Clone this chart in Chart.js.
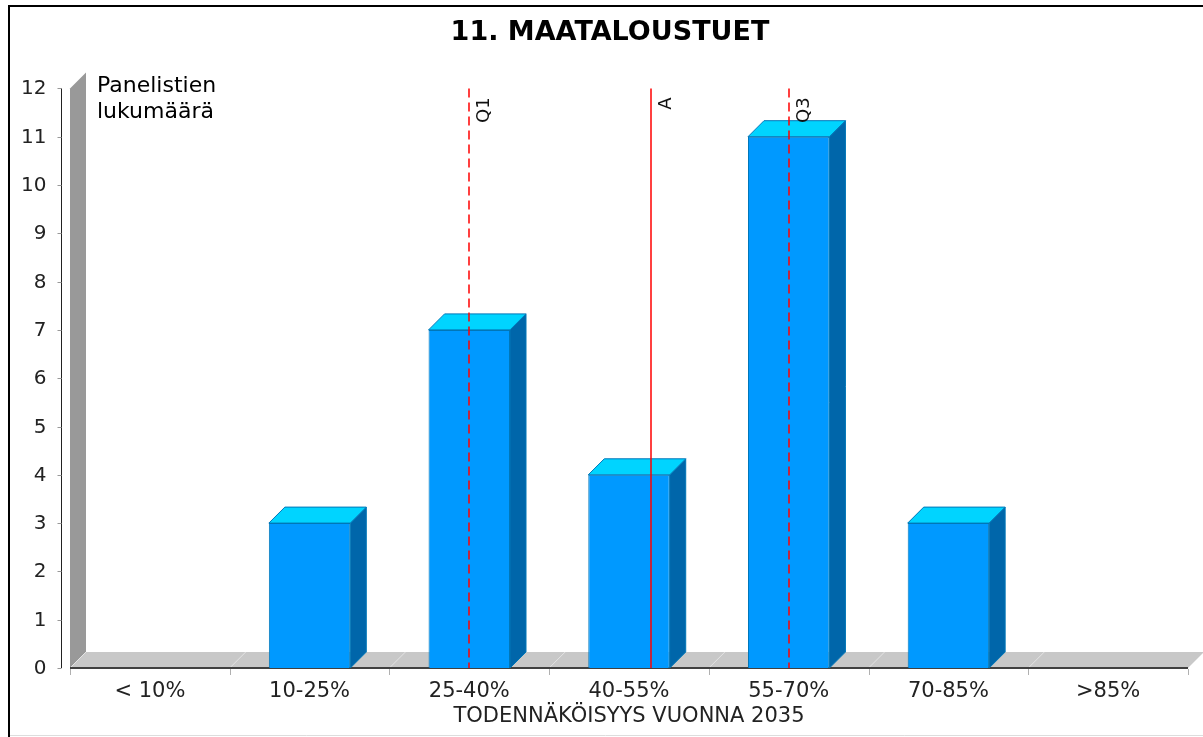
<!DOCTYPE html>
<html>
<head>
<meta charset="utf-8">
<script src="https://cdn.jsdelivr.net/npm/chart.js@4/dist/chart.umd.min.js"></script>
<style>
  html, body { margin: 0; padding: 0; background: #fff; }
  #wrap { width: 1203px; height: 737px; }
</style>
</head>
<body>
<div id="wrap"><canvas id="chart" width="1203" height="737"></canvas></div>
<script>
// Data
const categories = ['< 10%', '10-25%', '25-40%', '40-55%', '55-70%', '70-85%', '>85%'];
const counts = [0, 3, 7, 4, 11, 3, 0];
const yMax = 12;
const markerLabels = ['Q1', 'A', 'Q3'];
const markerValues = [2.0, 3.14, 4.0];   // position on the category axis (index units)

const FONT = "'DejaVu Sans', Verdana, sans-serif";
const DEPTH = 16;

// frame, 3D wall and floor, y axis, bar faces, marker lines
const backdrop = {
    id: 'backdrop',
    beforeDraw(chart) {
        const ctx = chart.ctx;
        ctx.save();
        ctx.strokeStyle = '#ddd';
        ctx.lineWidth = 1;
        ctx.beginPath();
        ctx.moveTo(8, 735.5);
        ctx.lineTo(1203, 735.5);
        ctx.stroke();
        ctx.strokeStyle = '#000';
        ctx.lineWidth = 2;
        ctx.beginPath();
        ctx.moveTo(9, 737);
        ctx.lineTo(9, 6);
        ctx.lineTo(1203, 6);
        ctx.stroke();
        ctx.restore();
    },
    beforeDatasetsDraw(chart) {
        const {ctx, chartArea: a} = chart;
        const x = chart.scales.x, y = chart.scales.y;
        ctx.save();
        // wall
        ctx.fillStyle = '#999999';
        ctx.beginPath();
        ctx.moveTo(a.left, a.top);
        ctx.lineTo(a.left + DEPTH, a.top - DEPTH);
        ctx.lineTo(a.left + DEPTH, a.bottom - DEPTH);
        ctx.lineTo(a.left, a.bottom);
        ctx.closePath();
        ctx.fill();
        // floor
        ctx.fillStyle = '#c8c8c8';
        ctx.beginPath();
        ctx.moveTo(a.left, a.bottom);
        ctx.lineTo(a.left + DEPTH, a.bottom - DEPTH);
        ctx.lineTo(a.right + DEPTH, a.bottom - DEPTH);
        ctx.lineTo(a.right, a.bottom);
        ctx.closePath();
        ctx.fill();
        // floor grid at category boundaries
        ctx.strokeStyle = '#e4e4e4';
        ctx.lineWidth = 1;
        for (let i = 0; i <= categories.length; i++) {
            const px = x.getPixelForValue(i - 0.5);
            ctx.beginPath();
            ctx.moveTo(px, a.bottom);
            ctx.lineTo(px + DEPTH, a.bottom - DEPTH);
            ctx.stroke();
        }
        // base line
        ctx.strokeStyle = '#404040';
        ctx.lineWidth = 2;
        ctx.beginPath();
        ctx.moveTo(a.left, a.bottom);
        ctx.lineTo(a.right, a.bottom);
        ctx.stroke();
        // x tick marks
        ctx.strokeStyle = '#b0b0b0';
        ctx.lineWidth = 1;
        for (let i = 0; i <= categories.length; i++) {
            const px = Math.round(x.getPixelForValue(i - 0.5)) + 0.5;
            ctx.beginPath();
            ctx.moveTo(px, a.bottom + 1);
            ctx.lineTo(px, a.bottom + 7);
            ctx.stroke();
        }
        // y axis line, ticks and labels
        const ax = Math.round(a.left - 9) + 0.5;
        ctx.strokeStyle = '#222';
        ctx.beginPath();
        ctx.moveTo(ax, y.getPixelForValue(yMax));
        ctx.lineTo(ax, y.getPixelForValue(0));
        ctx.stroke();
        ctx.font = '20px ' + FONT;
        ctx.fillStyle = '#222';
        ctx.textAlign = 'right';
        ctx.textBaseline = 'middle';
        y.ticks.forEach(t => {
            const py = Math.round(y.getPixelForValue(t.value)) + 0.5;
            ctx.strokeStyle = '#999';
            ctx.beginPath();
            ctx.moveTo(ax - 4, py);
            ctx.lineTo(ax, py);
            ctx.stroke();
            ctx.fillText(String(t.value), ax - 15, py);
        });
        ctx.restore();
    },
    afterDatasetsDraw(chart) {
        const {ctx, chartArea: a} = chart;
        const meta = chart.getDatasetMeta(0);
        ctx.save();
        ctx.lineWidth = 1;
        ctx.strokeStyle = '#0077b8';
        meta.data.forEach((bar, i) => {
            if (!counts[i]) return;
            const p = bar.getProps(['x', 'y', 'base', 'width'], true);
            const l = p.x - p.width / 2, r = p.x + p.width / 2;
            // side
            ctx.fillStyle = '#0066aa';
            ctx.beginPath();
            ctx.moveTo(r, p.y);
            ctx.lineTo(r + DEPTH, p.y - DEPTH);
            ctx.lineTo(r + DEPTH, p.base - DEPTH);
            ctx.lineTo(r, p.base);
            ctx.closePath();
            ctx.fill();
            ctx.stroke();
            // top
            ctx.fillStyle = '#00d4ff';
            ctx.beginPath();
            ctx.moveTo(l, p.y);
            ctx.lineTo(l + DEPTH, p.y - DEPTH);
            ctx.lineTo(r + DEPTH, p.y - DEPTH);
            ctx.lineTo(r, p.y);
            ctx.closePath();
            ctx.fill();
            ctx.stroke();
        });
        // marker lines
        const x = chart.scales.x;
        markerLabels.forEach((lab, i) => {
            const px = Math.round(x.getPixelForValue(markerValues[i]));
            const dashed = lab.startsWith('Q');
            ctx.strokeStyle = '#ff0000';
            ctx.lineWidth = 1.5;
            ctx.setLineDash(dashed ? [9, 5] : []);
            ctx.beginPath();
            ctx.moveTo(px, a.top);
            ctx.lineTo(px, a.bottom);
            ctx.stroke();
            ctx.setLineDash([]);
            ctx.save();
            ctx.translate(px + 20, a.top + 9);
            ctx.rotate(-Math.PI / 2);
            ctx.fillStyle = '#111';
            ctx.font = '18px ' + FONT;
            ctx.textAlign = 'right';
            ctx.textBaseline = 'alphabetic';
            ctx.fillText(lab, 0, 0);
            ctx.restore();
        });
        ctx.restore();
    },
    afterDraw(chart) {
        const ctx = chart.ctx;
        ctx.save();
        ctx.fillStyle = '#000';
        ctx.font = '22px ' + FONT;
        ctx.textAlign = 'left';
        ctx.textBaseline = 'middle';
        ctx.fillText('Panelistien', 97, 86);
        ctx.fillText('lukumäärä', 97, 112);
        ctx.restore();
    }
};

new Chart(document.getElementById('chart'), {
    type: 'bar',
    data: {
        labels: categories,
        datasets: [{
            data: counts,
            backgroundColor: '#0099ff',
            borderColor: '#0077b8',
            borderWidth: 1,
            categoryPercentage: 1,
            barPercentage: 0.51
        }]
    },
    plugins: [backdrop],
    options: {
        responsive: false,
        animation: false,
        devicePixelRatio: 1,
        layout: { padding: { left: 32, right: 15, top: 5, bottom: 0 } },
        plugins: {
            legend: { display: false },
            tooltip: { enabled: false },
            title: {
                display: true,
                text: '11. MAATALOUSTUET',
                color: '#000',
                font: { family: FONT, size: 27, weight: 'bold' },
                padding: { top: 12, bottom: 39 }
            }
        },
        scales: {
            x: {
                grid: { display: false },
                border: { display: false },
                ticks: { color: '#222', font: { family: FONT, size: 21 }, padding: 3 },
                title: {
                    display: true,
                    text: 'TODENNÄKÖISYYS VUONNA 2035',
                    color: '#222',
                    font: { family: FONT, size: 21 },
                    padding: { top: 0, bottom: 8 }
                },
                afterFit(scale) { scale.height = 69; }
            },
            y: {
                min: 0,
                max: yMax,
                grid: { display: false },
                border: { display: false },
                ticks: { stepSize: 1, display: false },
                afterFit(scale) { scale.width = 38; }
            }
        }
    }
});
</script>
</body>
</html>
